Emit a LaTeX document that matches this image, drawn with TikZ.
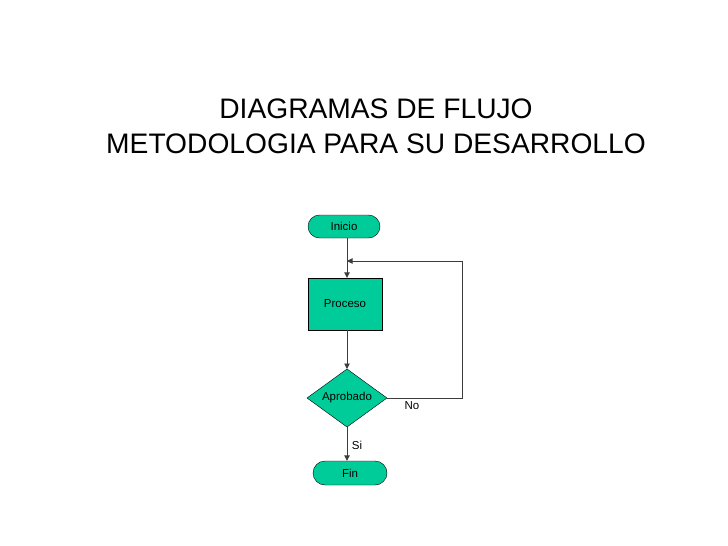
\documentclass[tikz,border=0pt]{standalone}
\usepackage{fontspec}
\setmainfont{Liberation Sans}
\usetikzlibrary{arrows.meta}
\definecolor{verde}{RGB}{0,204,153}
\definecolor{linea}{RGB}{60,60,60}

\begin{document}
\begin{tikzpicture}[x=1pt, y=-1pt,
  terminal/.style = {draw, fill=verde, rounded corners=11.5pt, minimum width=72pt, minimum height=23pt, font=\fontsize{11.5}{13}\selectfont},
  proc/.style = {draw, fill=verde, minimum width=74pt, minimum height=52pt, font=\fontsize{11.5}{13}\selectfont},
  etiq/.style = {font=\fontsize{11.5}{13}\selectfont},
  flecha/.style = {draw=linea, line width=0.9pt, -{Triangle[length=5.5pt, width=5.5pt]}}]
\useasboundingbox (0,0) rectangle (728,546);

\node[align=center, font=\fontsize{28.2}{35}\selectfont] (titulo) at (376,126) {DIAGRAMAS DE FLUJO\\METODOLOGIA PARA SU DESARROLLO};

\node[terminal] (inicio) at (344,226.5) {Inicio};
\node[proc] (proceso) at (345,304) {Proceso};
\draw[fill=verde] (307,398) -- (347,369) -- (387,398) -- (347,427) -- cycle;
\node[etiq] (aprob) at (347,398) {Aprobado};
\coordinate (aprobN) at (347,369);
\coordinate (aprobS) at (347,427);
\coordinate (aprobE) at (387,398);
\node[terminal, minimum width=74pt, minimum height=24pt, rounded corners=12pt] (fin) at (350,473) {Fin};

\coordinate (union) at (347,261);
\draw[flecha] (inicio.south -| aprobN) -- (proceso.north -| aprobN);
\draw[flecha] (proceso.south -| aprobN) -- (aprobN);
\draw[flecha] (aprobS) -- (fin.north -| aprobS);
\draw[flecha] (aprobE) -- (462,398) |- (union);

\node[etiq] (no) at (412,406) {No};
\node[etiq] (si) at (357,445) {Si};
\end{tikzpicture}
\end{document}
